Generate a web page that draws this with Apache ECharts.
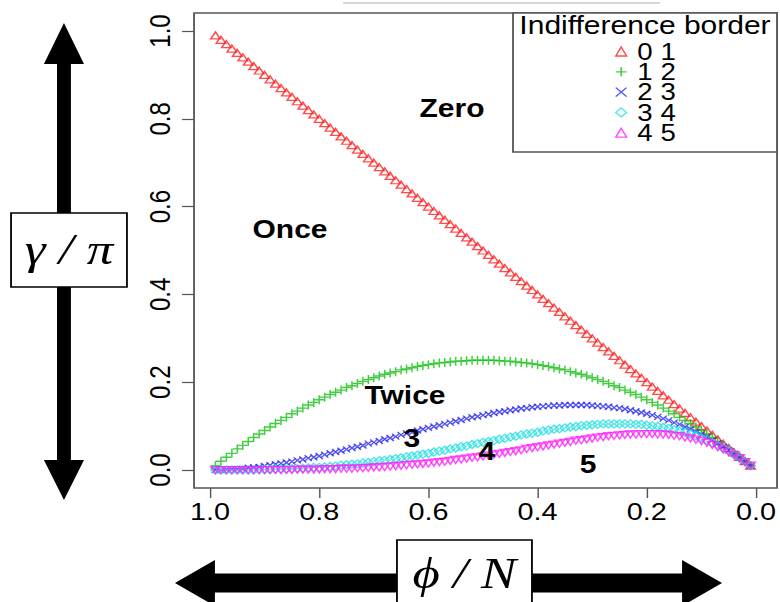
<!DOCTYPE html>
<html>
<head>
<meta charset="utf-8">
<script src="https://cdn.jsdelivr.net/npm/echarts@6/dist/echarts.min.js"></script>
<style>
    html,body{margin:0;padding:0;background:#fff;overflow:hidden;}
    /* the source figure is stretched sideways, so the chart is stretched the same way */
    #chart{width:650px;height:602px;transform:scaleX(1.2);transform-origin:0 0;}
</style>
</head>
<body>
<div id="chart"></div>
<script type="text/javascript">
    // phi / N, left to right on the plot (axis is reversed)
    var xs = [0.99,0.98,0.97,0.96,0.95,0.94,0.93,0.92,0.91,0.90,
              0.89,0.88,0.87,0.86,0.85,0.84,0.83,0.82,0.81,0.80,
              0.79,0.78,0.77,0.76,0.75,0.74,0.73,0.72,0.71,0.70,
              0.69,0.68,0.67,0.66,0.65,0.64,0.63,0.62,0.61,0.60,
              0.59,0.58,0.57,0.56,0.55,0.54,0.53,0.52,0.51,0.50,
              0.49,0.48,0.47,0.46,0.45,0.44,0.43,0.42,0.41,0.40,
              0.39,0.38,0.37,0.36,0.35,0.34,0.33,0.32,0.31,0.30,
              0.29,0.28,0.27,0.26,0.25,0.24,0.23,0.22,0.21,0.20,
              0.19,0.18,0.17,0.16,0.15,0.14,0.13,0.12,0.11,0.10,
              0.09,0.08,0.07,0.06,0.05,0.04,0.03,0.02,0.01];
    // gamma / pi for each indifference border
    var border01 = [0.990,0.980,0.970,0.960,0.950,0.940,0.930,0.920,0.910,0.900,
                    0.890,0.880,0.870,0.860,0.850,0.840,0.830,0.820,0.810,0.800,
                    0.790,0.780,0.770,0.760,0.750,0.740,0.730,0.720,0.710,0.700,
                    0.690,0.680,0.670,0.660,0.650,0.640,0.630,0.620,0.610,0.600,
                    0.590,0.580,0.570,0.560,0.550,0.540,0.530,0.520,0.510,0.500,
                    0.490,0.480,0.470,0.460,0.450,0.440,0.430,0.420,0.410,0.400,
                    0.390,0.380,0.370,0.360,0.350,0.340,0.330,0.320,0.310,0.300,
                    0.290,0.280,0.270,0.260,0.250,0.240,0.230,0.220,0.210,0.200,
                    0.190,0.180,0.170,0.160,0.150,0.140,0.130,0.120,0.110,0.100,
                    0.090,0.080,0.070,0.060,0.050,0.040,0.030,0.020,0.010];
    var border12 = [0.010,0.020,0.029,0.038,0.048,0.056,0.065,0.074,0.082,0.090,
                    0.098,0.106,0.113,0.120,0.128,0.134,0.141,0.148,0.154,0.160,
                    0.166,0.172,0.177,0.182,0.188,0.192,0.197,0.202,0.206,0.210,
                    0.214,0.218,0.221,0.224,0.228,0.230,0.233,0.236,0.238,0.240,
                    0.242,0.244,0.245,0.246,0.248,0.248,0.249,0.250,0.250,0.250,
                    0.250,0.250,0.249,0.248,0.248,0.246,0.245,0.244,0.242,0.240,
                    0.238,0.236,0.233,0.230,0.228,0.224,0.221,0.218,0.214,0.210,
                    0.206,0.202,0.197,0.192,0.188,0.182,0.177,0.172,0.166,0.160,
                    0.154,0.148,0.141,0.134,0.128,0.120,0.113,0.106,0.098,0.090,
                    0.082,0.074,0.065,0.056,0.048,0.038,0.029,0.020,0.010];
    var border23 = [0.000,0.000,0.001,0.002,0.002,0.003,0.005,0.006,0.007,0.009,
                    0.011,0.013,0.015,0.017,0.019,0.022,0.024,0.027,0.029,0.032,
                    0.035,0.038,0.041,0.044,0.047,0.050,0.053,0.056,0.060,0.063,
                    0.066,0.070,0.073,0.076,0.080,0.083,0.086,0.090,0.093,0.096,
                    0.099,0.102,0.105,0.108,0.111,0.114,0.117,0.120,0.122,0.125,
                    0.127,0.130,0.132,0.134,0.136,0.138,0.140,0.141,0.143,0.144,
                    0.145,0.146,0.147,0.147,0.148,0.148,0.148,0.148,0.148,0.147,
                    0.146,0.145,0.144,0.142,0.141,0.139,0.136,0.134,0.131,0.128,
                    0.125,0.121,0.117,0.113,0.108,0.104,0.098,0.093,0.087,0.081,
                    0.075,0.068,0.061,0.053,0.045,0.037,0.028,0.019,0.010];
    var border34 = [0.000,0.000,0.000,0.000,0.000,0.000,0.000,0.000,0.001,0.001,
                    0.001,0.002,0.002,0.002,0.003,0.003,0.004,0.005,0.006,0.006,
                    0.007,0.008,0.009,0.011,0.012,0.013,0.014,0.016,0.017,0.019,
                    0.021,0.022,0.024,0.026,0.028,0.030,0.032,0.034,0.036,0.038,
                    0.041,0.043,0.045,0.048,0.050,0.053,0.055,0.058,0.060,0.063,
                    0.065,0.067,0.070,0.072,0.075,0.077,0.080,0.082,0.084,0.086,
                    0.089,0.091,0.093,0.094,0.096,0.098,0.099,0.101,0.102,0.103,
                    0.104,0.105,0.105,0.105,0.105,0.105,0.105,0.104,0.104,0.102,
                    0.101,0.099,0.097,0.095,0.092,0.089,0.086,0.082,0.078,0.073,
                    0.068,0.062,0.056,0.050,0.043,0.035,0.027,0.019,0.010];
    var border45 = [0.000,0.000,0.000,0.000,0.000,0.000,0.000,0.000,0.000,0.000,
                    0.000,0.000,0.000,0.000,0.000,0.001,0.001,0.001,0.001,0.001,
                    0.002,0.002,0.002,0.003,0.003,0.003,0.004,0.004,0.005,0.006,
                    0.006,0.007,0.008,0.009,0.010,0.011,0.012,0.013,0.014,0.015,
                    0.017,0.018,0.019,0.021,0.023,0.024,0.026,0.028,0.029,0.031,
                    0.033,0.035,0.037,0.039,0.041,0.043,0.045,0.048,0.050,0.052,
                    0.054,0.056,0.058,0.060,0.062,0.064,0.067,0.068,0.070,0.072,
                    0.074,0.075,0.077,0.078,0.079,0.080,0.081,0.081,0.082,0.082,
                    0.082,0.081,0.081,0.080,0.078,0.077,0.074,0.072,0.069,0.066,
                    0.062,0.057,0.052,0.047,0.041,0.034,0.027,0.018,0.010];
    var legendNames = ['0 1', '1 2', '2 3', '3 4', '4 5'];
    var xTicks = [0, 0.2, 0.4, 0.6, 0.8, 1];

    var sans = '"Liberation Sans", Arial, sans-serif';
    var serif = '"Liberation Serif", "DejaVu Serif", serif';

    function pts(arr) {
        return xs.map(function (x, i) { return [x, arr[i]]; });
    }
    function marks(name, arr, color, symbol, size, rotate) {
        return {
            name: name,
            type: 'scatter',
            data: pts(arr),
            symbol: symbol,
            symbolSize: size,
            symbolRotate: rotate || 0,
            clip: false,
            silent: true,
            itemStyle: {color: 'transparent', borderColor: color, borderWidth: 1.3},
            emphasis: {disabled: true}
        };
    }
    function note(text, x, y) {
        return {type: 'text', z: 10, style: {text: text, x: x, y: y, fill: '#000',
            font: 'bold 25px ' + sans, textAlign: 'center', textVerticalAlign: 'middle',
            align: 'center', verticalAlign: 'middle'}};
    }

    var myChart = echarts.init(document.getElementById('chart'), null, {renderer: 'svg'});
    myChart.setOption({
        animation: false,
        grid: {left: 175, right: 20, top: 31, bottom: 132},
        xAxis: {
            type: 'value', min: xTicks[0], max: xTicks[xTicks.length - 1], interval: 0.2,
            inverse: true, offset: 18,
            axisLine: {show: false, onZero: false},
            axisTick: {show: true, length: 10, lineStyle: {color: '#555', width: 1.2}},
            splitLine: {show: false},
            axisLabel: {margin: 12, fontSize: 24, color: '#000', fontFamily: sans,
                formatter: function (v) { return v.toFixed(1); }}
        },
        yAxis: {
            type: 'value', min: 0, max: 1, interval: 0.2, offset: 13.3,
            axisLine: {show: false, onZero: false},
            axisTick: {show: true, length: 10, lineStyle: {color: '#555', width: 1.2}},
            splitLine: {show: false},
            axisLabel: {rotate: 90, margin: 16, fontSize: 24, color: '#000', fontFamily: sans,
                formatter: function (v) { return v.toFixed(1); }}
        },
        legend: {
            orient: 'vertical', left: 512.5, top: 40, padding: 0,
            itemWidth: 9, itemHeight: 9, itemGap: -2.7, z: 6,
            selectedMode: false,
            itemStyle: {borderWidth: 1.3},
            textStyle: {fontSize: 23, color: '#000', fontFamily: sans, padding: [0, 0, 0, 4]},
            data: legendNames
        },
        series: [
            marks(legendNames[0], border01, '#ff2020', 'triangle', [8, 7]),
            marks(legendNames[1], border12, '#10c010', 'path://M5,0L5,10M0,5L10,5', [8, 9]),
            marks(legendNames[2], border23, '#2828f0', 'path://M0,0L10,10M0,10L10,0', [6, 6]),
            marks(legendNames[3], border34, '#20e0e0', 'diamond', [8, 8]),
            marks(legendNames[4], border45, '#ff20ff', 'triangle', [8, 7], 180)
        ],
        graphic: [
            // plot frame
            {type: 'rect', z: 1, silent: true, shape: {x: 161.7, y: 13, width: 485.8, height: 475},
                style: {fill: 'none', stroke: '#555', lineWidth: 1.5}},
            // stray rule at the very top
            {type: 'line', z: 1, shape: {x1: 286, y1: 3, x2: 550, y2: 3},
                style: {stroke: '#c8c8c8', lineWidth: 1.5}},
            // legend box + title
            {type: 'rect', z: 3, shape: {x: 427.5, y: 13, width: 220, height: 139},
                style: {fill: '#fff', stroke: '#555', lineWidth: 1.5}},
            {type: 'text', z: 6, style: {text: 'Indifference border', x: 537.5, y: 25, fill: '#000',
                font: '25px ' + sans, textAlign: 'center', textVerticalAlign: 'middle',
                align: 'center', verticalAlign: 'middle'}},
            // region names
            note('Zero', 376.7, 108),
            note('Once', 241.7, 229),
            note('Twice', 337.5, 395),
            note('3', 343.3, 438),
            note('4', 405.8, 451),
            note('5', 490, 464),
            // vertical double arrow with gamma / pi
            {type: 'polygon', shape: {points: [[53.3, 23], [70, 64], [59.1, 64], [59.1, 460], [70, 460],
                [53.3, 500], [36.6, 460], [47.5, 460], [47.5, 64], [36.6, 64]]}, style: {fill: '#000'}},
            {type: 'rect', shape: {x: 9.2, y: 213, width: 96.6, height: 74},
                style: {fill: '#fff', stroke: '#000', lineWidth: 1.5}},
            {type: 'text', style: {text: '\u03b3 / \u03c0', x: 57.5, y: 250, fill: '#000',
                font: 'italic 44px ' + serif, textAlign: 'center', textVerticalAlign: 'middle',
                align: 'center', verticalAlign: 'middle'}},
            // horizontal double arrow with phi / N
            {type: 'polygon', shape: {points: [[145.8, 583], [179.1, 560], [179.1, 573.5], [568.4, 573.5],
                [568.4, 560], [601.7, 583], [568.4, 606], [568.4, 592.5], [179.1, 592.5], [179.1, 606]]},
                style: {fill: '#000'}},
            {type: 'rect', shape: {x: 330.8, y: 540, width: 112.5, height: 80},
                style: {fill: '#fff', stroke: '#000', lineWidth: 1.5}},
            {type: 'text', style: {text: '\u03d5 / N', x: 387, y: 574, fill: '#000',
                font: 'italic 44px ' + serif, textAlign: 'center', textVerticalAlign: 'middle',
                align: 'center', verticalAlign: 'middle'}}
        ]
    });
</script>
</body>
</html>
